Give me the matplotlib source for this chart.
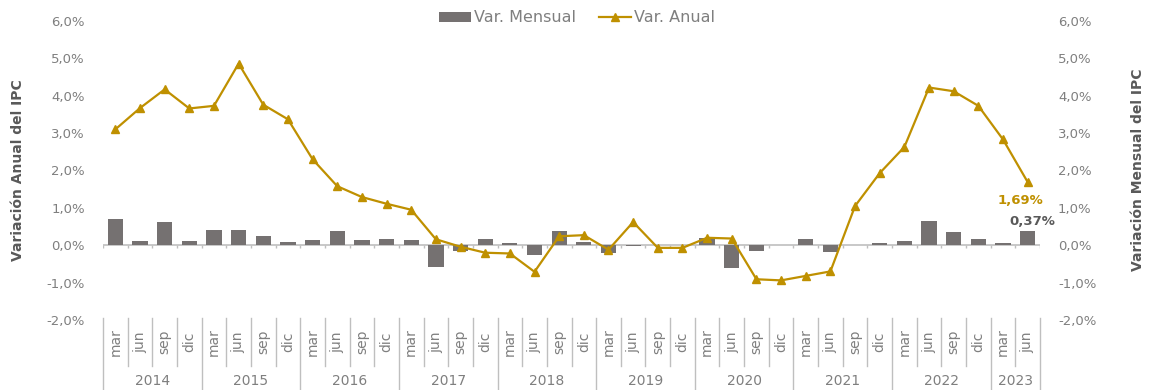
import matplotlib
matplotlib.use("Agg")
import matplotlib.pyplot as plt
import numpy as np
from matplotlib.transforms import blended_transform_factory

# Quarterly CPI data (mar 2014 .. jun 2023)
years = ["2014", "2015", "2016", "2017", "2018", "2019", "2020", "2021", "2022", "2023"]
months = ["mar", "jun", "sep", "dic"]
quarters_per_year = [4, 4, 4, 4, 4, 4, 4, 4, 4, 2]

var_mensual = [0.70, 0.11, 0.61, 0.12, 0.42, 0.41, 0.26, 0.09,
               0.14, 0.37, 0.15, 0.16, 0.14, -0.58, -0.15, 0.18,
               0.07, -0.27, 0.39, 0.10, -0.22, -0.02, 0.01, 0.01,
               0.20, -0.62, -0.15, 0.01, 0.18, -0.18, 0.01, 0.07,
               0.11, 0.64, 0.36, 0.16, 0.07, 0.37]
var_anual = [3.10, 3.67, 4.17, 3.66, 3.73, 4.86, 3.76, 3.37,
             2.30, 1.58, 1.29, 1.11, 0.95, 0.16, -0.04, -0.20,
             -0.22, -0.71, 0.24, 0.27, -0.12, 0.62, -0.07, -0.07,
             0.20, 0.18, -0.91, -0.94, -0.82, -0.70, 1.05, 1.93,
             2.63, 4.22, 4.12, 3.73, 2.83, 1.69]

yticks = [-2, -1, 0, 1, 2, 3, 4, 5, 6]

BAR = "#757171"
GOLD = "#BF9000"
TXT = "#7F7F7F"
TITLE = "#595959"
SEP = "#BFBFBF"

plt.rcParams["font.family"] = ["DejaVu Sans"]

W, H = 1149, 390
fig = plt.figure(figsize=(W / 100, H / 100), dpi=100)
left, right, top, bottom = 103, 1040, 21, 320
ax = fig.add_axes([left / W, 1 - bottom / H, (right - left) / W, (bottom - top) / H])
ax2 = ax.twinx()

n = len(var_anual)
x = np.arange(n)

bars = ax.bar(x, var_mensual, width=0.62, color=BAR, zorder=2, label="Var. Mensual")
line, = ax2.plot(x, var_anual, color=GOLD, lw=1.6, marker="^", ms=5.5, zorder=3,
                 label="Var. Anual")

for a in (ax, ax2):
    a.set_xlim(-0.5, n - 0.5)
    a.set_ylim(-2, 6)
    a.set_yticks(yticks)
    a.set_yticklabels([f"{v:.1f}%".replace(".", ",") for v in yticks],
                      color=TXT, fontsize=9.5)
    a.tick_params(axis="y", length=0, pad=13)
    a.set_xticks([])
    for s in a.spines.values():
        s.set_visible(False)
ax2.patch.set_visible(False)

# zero line with small category ticks
ax.axhline(0, color=SEP, lw=1.2, zorder=1)
ax.vlines(np.arange(n + 1) - 0.5, -0.08, 0, color=SEP, lw=1, zorder=1)

# axis titles
fig.text(18 / W, 1 - 170 / H, "Variación Anual del IPC", rotation=90, ha="center",
         va="center", color=TITLE, fontsize=10, fontweight="bold")
fig.text(1138 / W, 1 - 170 / H, "Variación Mensual del IPC", rotation=90, ha="center",
         va="center", color=TITLE, fontsize=10, fontweight="bold")

# category table below the plot
tr = blended_transform_factory(ax.transData, ax.transAxes)
ax_h = bottom - top
month_bot = -(366 - bottom) / ax_h
year_bot = -(H - bottom) / ax_h
top_y = (bottom - 318) / ax_h
idx = 0
for yr, nq in zip(years, quarters_per_year):
    ax.plot([idx - 0.5, idx - 0.5], [top_y, year_bot], transform=tr,
            color=SEP, lw=1, clip_on=False)
    for q in range(nq):
        i = idx + q
        if q > 0:
            ax.plot([i - 0.5, i - 0.5], [top_y, month_bot], transform=tr,
                    color=SEP, lw=1, clip_on=False)
        ax.text(i, (top_y + month_bot) / 2, months[q], transform=tr, rotation=90,
                ha="center", va="center", color=TXT, fontsize=10)
    ax.text(idx + nq / 2 - 0.5, -(381 - bottom) / ax_h, yr, transform=tr,
            ha="center", va="center", color=TXT, fontsize=10)
    idx += nq
ax.plot([idx - 0.5, idx - 0.5], [top_y, year_bot], transform=tr,
        color=SEP, lw=1, clip_on=False)

# value labels for the last quarter
ax2.annotate(f"{var_anual[-1]:.2f}%".replace(".", ","), (x[-1], var_anual[-1]),
             xytext=(-5, -13), textcoords="offset points", ha="center", va="center",
             color=GOLD, fontsize=9.5, fontweight="bold")
ax.annotate(f"{var_mensual[-1]:.2f}%".replace(".", ","), (x[-1], var_mensual[-1]),
            xytext=(3, 7), textcoords="offset points", ha="center", va="center",
            color=TITLE, fontsize=9.5, fontweight="bold")

fig.legend(handles=[bars, line], loc="center", bbox_to_anchor=(577 / W, 1 - 18 / H),
           ncol=2, frameon=False, fontsize=11.5, labelcolor=TXT,
           handlelength=2.0, handleheight=0.6, columnspacing=1.4, handletextpad=0.2)

fig.savefig("out.png", dpi=100)
